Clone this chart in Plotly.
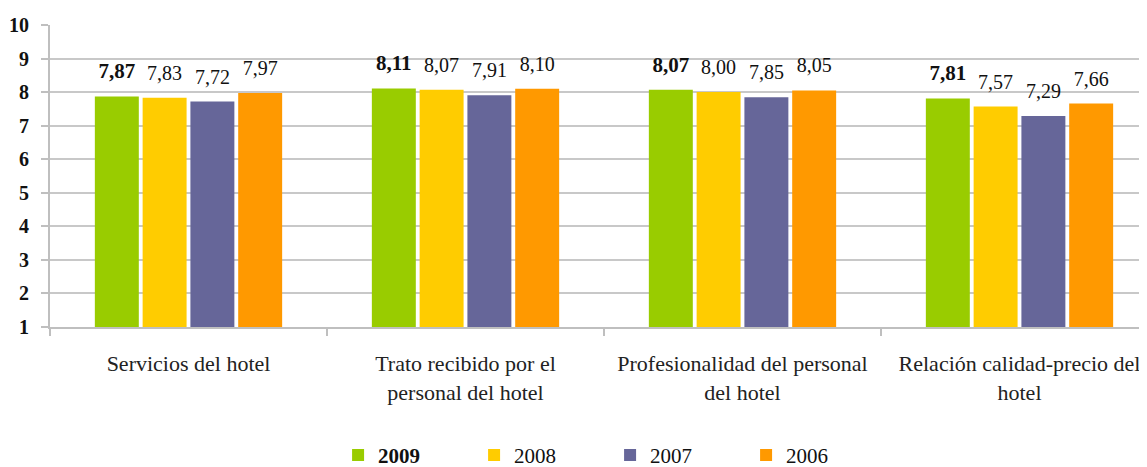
import plotly.graph_objects as go

categorias = ["Servicios del hotel",
              "Trato recibido por el<br>personal del hotel",
              "Profesionalidad del personal<br>del hotel",
              "Relación calidad-precio del<br>hotel"]
anios = ["2009", "2008", "2007", "2006"]
v2009 = [7.87, 8.11, 8.07, 7.81]
v2008 = [7.83, 8.07, 8.00, 7.57]
v2007 = [7.72, 7.91, 7.85, 7.29]
v2006 = [7.97, 8.10, 8.05, 7.66]
colores = ["#99CC00", "#FFCC00", "#666699", "#FF9900"]

serif = "Liberation Serif"

fig = go.Figure()
for anio, vals, color in zip(anios, [v2009, v2008, v2007, v2006], colores):
    negrita = anio == "2009"
    etiquetas = [f"{v:.2f}".replace(".", ",") for v in vals]
    if negrita:
        etiquetas = [f"<b>{e}</b>" for e in etiquetas]
        tam = 21
    else:
        tam = 20
    fig.add_trace(go.Bar(
        x=categorias, y=vals, name=f"<b>{anio}</b>" if negrita else anio,
        marker_color=color, marker_line_width=0,
        text=etiquetas,
        # segunda linea vacia para separar la etiqueta de la barra
        texttemplate=f"<span style='font-size:{tam}px'>%{{text}}</span><br> ",
        textposition="outside", cliponaxis=False, constraintext="none",
        textfont=dict(family=serif, size=10, color="#111"),
    ))

fig.update_layout(
    width=1150, height=475,
    margin=dict(l=42, r=0, t=17, b=156),
    barmode="group", bargap=0.31, bargroupgap=0.08,
    plot_bgcolor="white", paper_bgcolor="white",
    font=dict(family=serif, size=20, color="#111"),
    legend=dict(orientation="h", x=0.26, xanchor="left", y=-0.425, yanchor="middle",
                font=dict(family=serif, size=21), entrywidth=91, traceorder="normal"),
)
fig.update_xaxes(
    range=[-0.5, 3.5], automargin=False,
    showline=True, linecolor="#BFBFBF", linewidth=2,
    ticks="outside", tickson="boundaries", ticklen=7, tickcolor="#BFBFBF", tickwidth=2,
    ticklabelstandoff=16,
    tickfont=dict(family=serif, size=22, color="#222"),
)
fig.update_yaxes(
    range=[1, 10], dtick=1, tick0=1, automargin=False,
    showgrid=True, gridcolor="#C8C8C8", gridwidth=2,
    showline=True, linecolor="#BFBFBF", linewidth=2,
    ticks="outside", ticklen=7, tickcolor="#BFBFBF", tickwidth=2,
    ticklabelstandoff=8,
    tickfont=dict(family=serif, size=20, color="#111", weight="bold"),
    zeroline=False,
)

fig.write_html("out.html")
